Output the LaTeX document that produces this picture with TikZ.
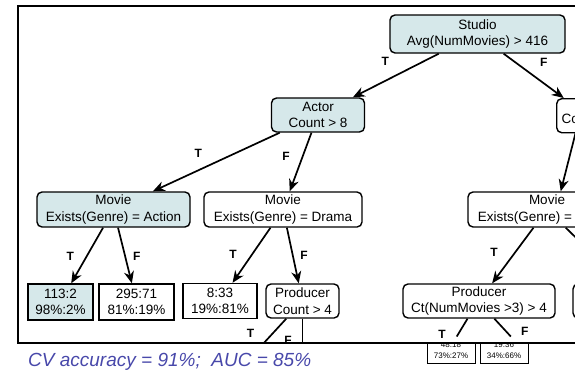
\documentclass[tikz,border=0pt]{standalone}
\usepackage{fontspec}
\setmainfont{Liberation Sans}
\usetikzlibrary{arrows.meta}

\definecolor{splitfill}{RGB}{214,232,234}
\definecolor{capblue}{RGB}{72,72,170}

\begin{document}
\begin{tikzpicture}[
  x=1pt, y=-1pt,
  >={Stealth[length=12pt,width=10pt]},
  every node/.style={align=center, inner sep=2pt, font=\fontsize{13.5}{16.5}\selectfont},
  split/.style={draw, line width=1.4pt, rounded corners=5pt, minimum height=34pt},
  leaf/.style={draw, line width=1.4pt, minimum height=35pt},
  tiny/.style={draw, line width=0.9pt, fill=white, font=\fontsize{8}{11}\selectfont, minimum width=48pt, minimum height=26pt},
  lbl/.style={font=\fontsize{12}{12}\selectfont\bfseries, inner sep=0pt},
  link/.style={->, line width=1.7pt}
]
\useasboundingbox (0,0) rectangle (575,370);

% small leaves below the cut
\begin{scope}
\clip (18,343) rectangle (575,370);
\node[tiny] (t1) at (451,350) {48:18\\73\%:27\%};
\node[tiny] (t2) at (504,350) {19:36\\34\%:66\%};
\end{scope}

\begin{scope}
\clip (18,6) rectangle (575,343);
% splits
\node[split, fill=splitfill, minimum width=175pt, minimum height=38pt] (studio) at (477.5,34) {Studio\\Avg(NumMovies) > 416};
\node[split, fill=splitfill, minimum width=93pt] (actor) at (318,115) {Actor\\Count > 8};
\node[split, anchor=north west, text width=80pt, inner sep=5pt, align=left] (rnode) at (556,98) {\mbox{}\\Co};
\node[split, fill=splitfill, minimum width=153pt, minimum height=35pt] (movA) at (113.5,209.5) {Movie\\Exists(Genre) = Action};
\node[split, minimum width=158pt, minimum height=35pt] (movD) at (283,209.5) {Movie\\Exists(Genre) = Drama};
\node[split, minimum width=158pt, minimum height=35pt] (movR) at (547,209.5) {Movie\\Exists(Genre) = \hphantom{Drama}};
\node[split, minimum width=73pt] (prodA) at (302.5,301) {Producer\\Count > 4};
\node[split, minimum width=152pt] (prodB) at (479,301) {Producer\\Ct(NumMovies >3) > 4};
\node[split, minimum width=136pt] (movR2) at (641,301) {};
% leaves
\node[leaf, fill=splitfill, minimum width=65pt, minimum height=36pt] (l1) at (60.5,302) {113:2\\98\%:2\%};
\node[leaf, minimum width=75pt, minimum height=36pt] (l2) at (136.5,302) {295:71\\81\%:19\%};
\node[leaf, minimum width=74pt] (l3) at (220,301) {8:33\\19\%:81\%};
\coordinate (pa1) at (229.8,380);
\coordinate (pa2) at (302.5,380);

% edges
\draw[link] (studio) -- node[lbl, pos=.53, xshift=-8pt, yshift=15pt] {T} (actor);
\draw[link] (studio.-37) -- node[lbl, pos=.5, xshift=10pt, yshift=13.5pt] {F} (rnode.155);
\draw[link] (actor) -- node[lbl, pos=.59, xshift=-6.6pt, yshift=14.3pt] {T} (movA);
\draw[link] (actor) -- node[lbl, pos=.5, xshift=-14.6pt, yshift=5.4pt] {F} (movD);
\draw[link] (rnode.214) -- (movR.53);
\draw[link] (movA) -- node[lbl, pos=.65, xshift=-12pt, yshift=7pt] {T} (l1);
\draw[link] (movA) -- node[lbl, pos=.57, xshift=11pt, yshift=3pt] {F} (l2);
\draw[link] (movD) -- node[lbl, pos=.65, xshift=-12.7pt, yshift=8.7pt] {T} (l3);
\draw[link] (movD) -- node[lbl, pos=.53, xshift=11pt, yshift=2.3pt] {F} (prodA);
\draw[link] (movR) -- node[lbl, pos=.62, xshift=-13.7pt, yshift=10.3pt] {T} (prodB);
\draw[link] (movR) -- (movR2);
\draw[link] (prodA) -- node[lbl, pos=.42, xshift=-12pt, yshift=11pt] {T} (pa1);
\draw[link] (prodA) -- node[lbl, pos=.355, xshift=-14.5pt] {F} (pa2);
\draw[line width=1.7pt] (prodB.-123) -- node[lbl, pos=1, xshift=-14.6pt, yshift=2pt] {T} (t1.67);
\draw[line width=1.7pt] (prodB.-49) -- node[lbl, pos=1, xshift=14pt, yshift=5pt] {F} (t2.63);
\end{scope}

% frame and caption
\draw[line width=1.2pt] (576,6) -- (18,6) -- (18,343) -- (576,343);
\node[font=\fontsize{19}{19}\selectfont\itshape, text=capblue, anchor=base west, inner sep=0pt] (cap) at (28,366) {CV accuracy = 91\%;\ \ AUC = 85\%};
\end{tikzpicture}
\end{document}
